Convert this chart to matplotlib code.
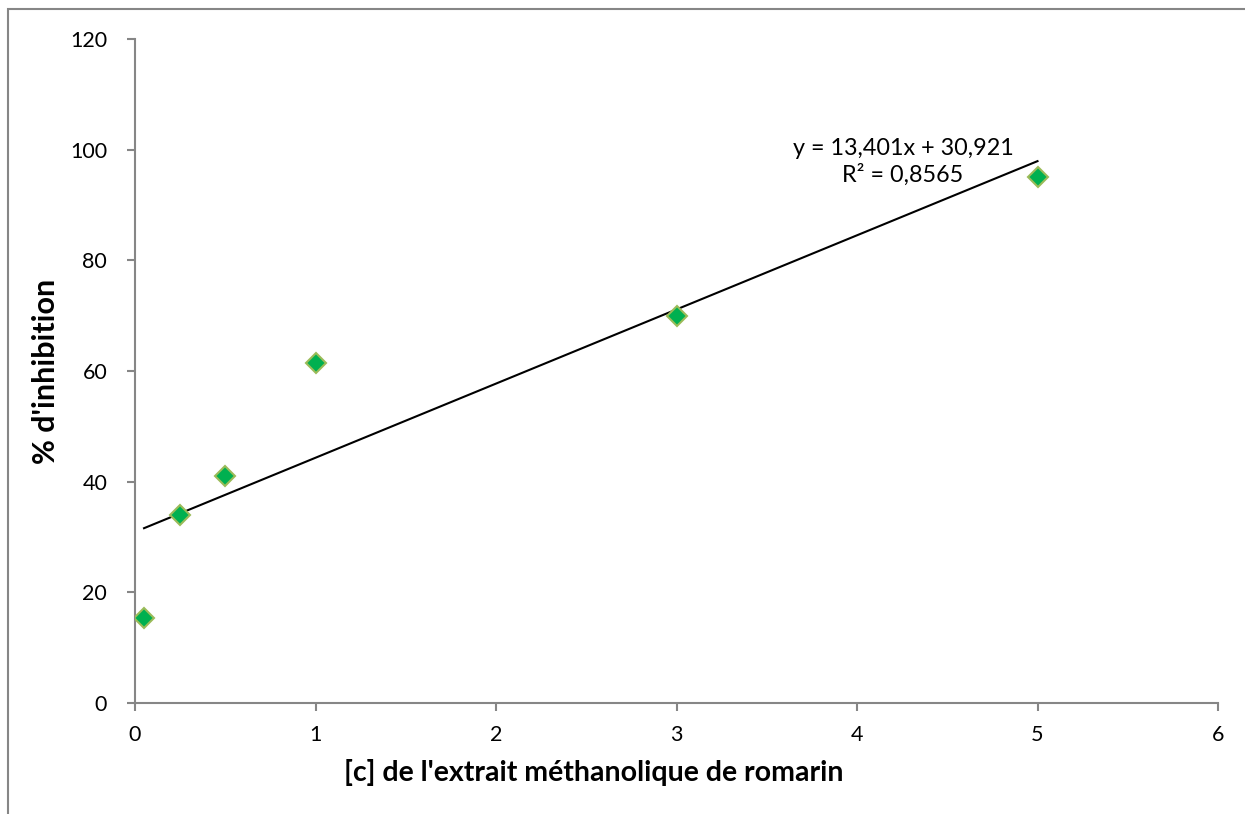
import numpy as np
import matplotlib
matplotlib.use("Agg")
import matplotlib.pyplot as plt
from matplotlib.patches import Rectangle

plt.rcParams['font.family'] = ['Lato', 'DejaVu Sans']

# concentrations and inhibition values
conc = [0.05, 0.25, 0.5, 1, 3, 5]
inhibition = [15.4, 34, 41, 61.5, 70, 95]

# linear trendline parameters
slope = 13.401
intercept = 30.921
r2 = 0.8565

xticks = [0, 1, 2, 3, 4, 5, 6]
yticks = [0, 20, 40, 60, 80, 100, 120]

W, H = 1245, 814
fig = plt.figure(figsize=(W / 100, H / 100), dpi=100)
ax = fig.add_axes([135 / W, 1 - 703 / H, (1218 - 135) / W, (703 - 39) / H])

# outer chart frame (top and left edges visible)
fig.patches.append(Rectangle((8 / W, -0.1), 1.2, 1 - 9 / H + 0.1,
                             transform=fig.transFigure, fill=False,
                             edgecolor='#868686', linewidth=1.5))

ax.plot(conc, inhibition, linestyle='none', marker='D', markersize=10,
        markerfacecolor='#00B050', markeredgecolor='#9BBB59',
        markeredgewidth=1.5, zorder=3)

xs = np.array([min(conc), max(conc)])
ax.plot(xs, slope * xs + intercept, color='black', linewidth=1.5, zorder=2)

eq = "y = {}x + {}\nR² = {}".format(str(slope).replace('.', ','),
                                     str(intercept).replace('.', ','),
                                     str(r2).replace('.', ','))
fig.text(903 / W, 1 - 162 / H, eq, ha='center', va='center',
         multialignment='center', fontsize=16.8, linespacing=1.25)

ax.set_xlim(0, 6)
ax.set_ylim(0, 120)
ax.set_xticks(xticks)
ax.set_yticks(yticks)
ax.tick_params(direction='out', length=6, width=1.5, color='#868686',
               labelsize=15.5)
ax.tick_params(axis='x', pad=10)
ax.tick_params(axis='y', pad=14)

for side in ['top', 'right']:
    ax.spines[side].set_visible(False)
for side in ['left', 'bottom']:
    ax.spines[side].set_color('#868686')
    ax.spines[side].set_linewidth(1.5)

ax.set_xlabel("[c] de l'extrait méthanolique de romarin", fontsize=20.5,
              fontweight='bold')
ax.xaxis.set_label_coords(0.424, -0.085)
ax.set_ylabel("% d'inhibition", fontsize=22, fontweight='bold')
ax.yaxis.set_label_coords(-0.069, 0.5)

fig.savefig('out.png', dpi=100)
